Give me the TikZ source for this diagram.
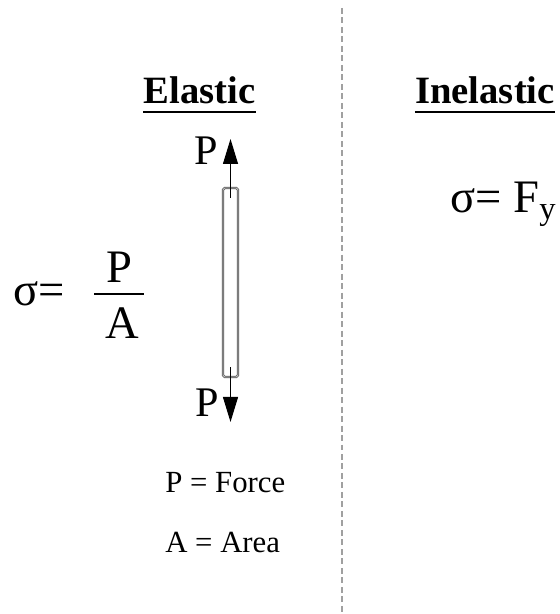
\documentclass[tikz,border=0pt]{standalone}
\usepackage{fontspec}
\setmainfont{Liberation Serif}
\usetikzlibrary{arrows.meta}
\definecolor{DivGray}{HTML}{A0A0A0}
\definecolor{RodEdge}{HTML}{555555}
\definecolor{RodCore}{HTML}{C4C4C4}

\begin{document}
\begin{tikzpicture}[x=1cm,y=1cm,
  head/.style={inner sep=0pt,font=\bfseries\fontsize{22}{22}\selectfont},
  formula/.style={inner sep=0pt,font=\fontsize{26.5}{26.5}\selectfont},
  loadlbl/.style={inner sep=0pt,font=\fontsize{24}{24}\selectfont},
  legend/.style={inner sep=0pt,font=\fontsize{17.5}{17.5}\selectfont},
  load/.style={line width=.6pt,-{Triangle[length=.5cm,width=.3cm]}},
  rodbox/.style={draw=RodEdge,line width=.4pt,double=RodCore,double distance=.5pt,rounded corners=1pt},
  divider/.style={DivGray,line width=1pt,dash pattern=on 3.4pt off 2pt}]
\path[use as bounding box] (0,0) rectangle (11.18,12.28);
\coordinate (divtop) at (6.84,12.12);
\coordinate (divbot) at (6.84,0);
\draw[divider] (divtop) -- (divbot);
\node[head,anchor=base] (elastic) at (3.99,10.20) {Elastic};
\draw[line width=1.2pt] ([yshift=-1.6mm]elastic.base west) -- ([yshift=-1.6mm]elastic.base east);
\node[head,anchor=base] (inelastic) at (9.70,10.20) {Inelastic};
\draw[line width=1.2pt] ([yshift=-1.6mm]inelastic.base west) -- ([yshift=-1.6mm]inelastic.base east);
\node[formula,anchor=base west] (sigleft) at (0.26,6.16) {σ=};
\node[formula,anchor=base] (num) at (2.39,6.62) {P};
\node[formula,anchor=base] (den) at (2.45,5.50) {A};
\draw[line width=.8pt] (1.88,6.40) -- (2.88,6.40);
\node[formula,anchor=base west] (sigright) at (9.00,8.02) {σ= F\textsubscript{y}};
\node[rodbox,minimum width=.30cm,minimum height=3.78cm] (rod) at (4.61,6.63) {};
\coordinate (toptip) at (4.61,9.50);
\coordinate (bottip) at (4.61,3.84);
\draw[load] ([yshift=-2mm]rod.north) -- (toptip);
\draw[load] ([yshift=2mm]rod.south) -- (bottip);
\node[loadlbl,anchor=base] (ptop) at (4.12,8.98) {P};
\node[loadlbl,anchor=base] (pbot) at (4.15,3.94) {P};
\node[legend,anchor=base west] (pforce) at (3.30,2.42) {P = Force};
\node[legend,anchor=base west] (aarea) at (3.30,1.22) {A = Area};
\end{tikzpicture}
\end{document}
